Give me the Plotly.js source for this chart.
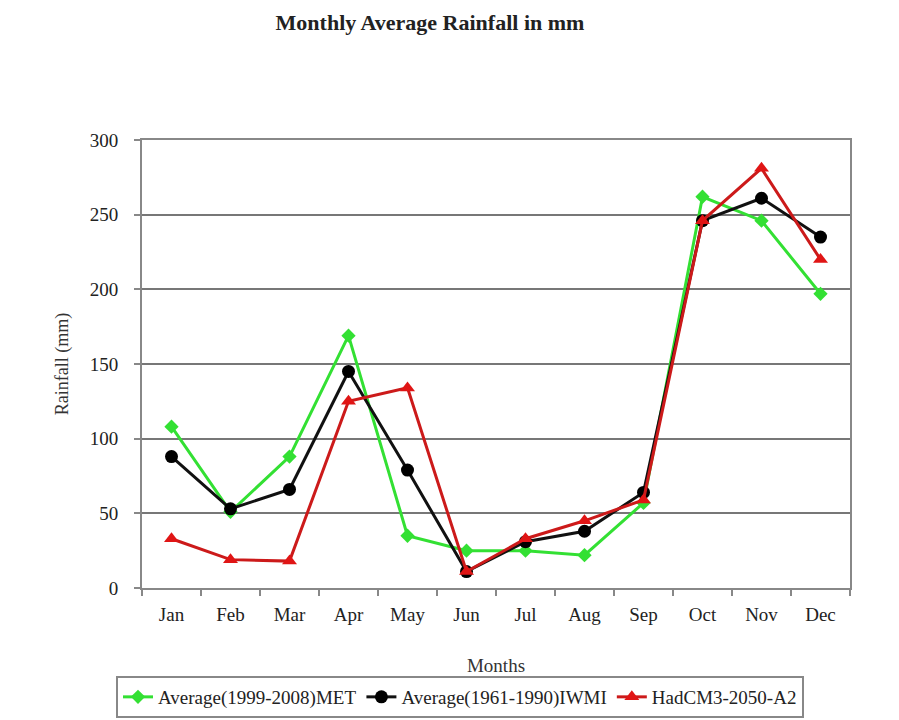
<!DOCTYPE html>
<html>
<head>
<meta charset="utf-8">
<script src="https://cdn.plot.ly/plotly-3.0.1.min.js"></script>
<style>html,body{margin:0;padding:0;background:#fff;}#chart{width:899px;height:720px;}</style>
</head>
<body>
<div id="chart"></div>
<script>
const months = ["Jan","Feb","Mar","Apr","May","Jun","Jul","Aug","Sep","Oct","Nov","Dec"];
const metName = "Average(1999-2008)MET";
const metValues = [108, 51, 88, 169, 35, 25, 25, 22, 57, 262, 246, 197];
const iwmiName = "Average(1961-1990)IWMI";
const iwmiValues = [88, 53, 66, 145, 79, 11, 31, 38, 64, 246, 261, 235];
const hadName = "HadCM3-2050-A2";
const hadValues = [33, 19, 18, 125, 134, 11, 33, 45, 59, 246, 281, 220];
const yTicks = [0, 50, 100, 150, 200, 250, 300];

const serif = "Liberation Serif, Times New Roman, serif";

const traces = [
  {x: months, y: metValues, name: metName, type: "scatter", mode: "lines+markers",
   line: {color: "#33e033", width: 3}, marker: {symbol: "diamond", size: 11, color: "#33e033"}},
  {x: months, y: iwmiValues, name: iwmiName, type: "scatter", mode: "lines+markers",
   line: {color: "#111111", width: 3}, marker: {symbol: "circle", size: 13, color: "#000000"}},
  {x: months, y: hadValues, name: hadName, type: "scatter", mode: "lines+markers",
   line: {color: "#cc1a1a", width: 3}, marker: {symbol: "triangle-up", size: 13, color: "#e01515"}}
];

const layout = {
  width: 899, height: 720,
  paper_bgcolor: "#ffffff", plot_bgcolor: "#ffffff",
  margin: {l: 142, r: 49, t: 140, b: 132},
  font: {family: serif, color: "#222222", size: 16},
  title: {text: "<b>Monthly Average Rainfall in mm</b>", font: {family: serif, size: 22, color: "#222"},
          x: 430/899, xref: "container", xanchor: "center", y: 1 - 22/720, yref: "container", yanchor: "middle"},
  xaxis: {
    type: "category", categoryorder: "array", categoryarray: months,
    range: [-0.5, 11.5], autorange: false,
    showline: true, linecolor: "#888", linewidth: 2, mirror: true,
    ticks: "outside", tickson: "boundaries", ticklen: 6, tickcolor: "#888", tickwidth: 2,
    ticklabelstandoff: 8,
    showgrid: false, tickfont: {family: serif, size: 19, color: "#222"},
    title: {text: "Months", font: {family: serif, size: 19, color: "#333"}, standoff: 42}
  },
  yaxis: {
    range: [0, 300], autorange: false, tickvals: yTicks, ticktext: yTicks.map(String),
    showline: true, linecolor: "#888", linewidth: 2, mirror: true,
    ticks: "outside", ticklen: 6, tickcolor: "#888", tickwidth: 2,
    ticklabelstandoff: 12,
    showgrid: true, gridcolor: "#777", gridwidth: 2, zeroline: false,
    tickfont: {family: serif, size: 19, color: "#222"},
    title: {text: "Rainfall (mm)", font: {family: serif, size: 18, color: "#333"}, standoff: 16}
  },
  legend: {
    orientation: "h", xref: "container", yref: "container",
    x: 460/899, xanchor: "center", y: 2/720, yanchor: "bottom",
    bordercolor: "#888", borderwidth: 2, bgcolor: "#fff",
    font: {family: serif, size: 19, color: "#222"}, itemwidth: 30, tracegroupgap: 0
  },
  showlegend: true
};

Plotly.newPlot("chart", traces, layout, {displayModeBar: false, staticPlot: true});
</script>
</body>
</html>
